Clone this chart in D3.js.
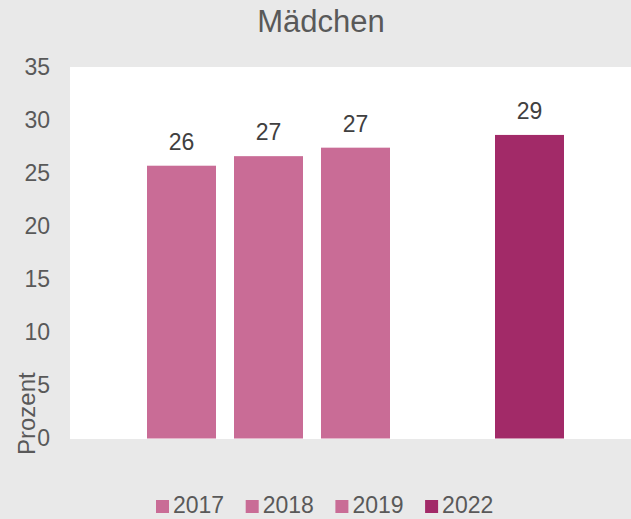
<!DOCTYPE html>
<html>
<head>
<meta charset="utf-8">
<script src="https://cdn.jsdelivr.net/npm/d3@7"></script>
<style>
  body { margin: 0; background: #e9e9e9; }
  svg { display: block; font-family: "Liberation Sans", Arial, sans-serif; }
</style>
</head>
<body>
<svg id="chart" width="631" height="519"></svg>
<script>
// data
const years = ['2017', '2018', '2019', 'gap', '2022'];
const values = [25.7, 26.6, 27.4, null, 28.6];
const labels = ['26', '27', '27', '', '29'];
const legendYears = ['2017', '2018', '2019', '2022'];
const yTicks = [0, 5, 10, 15, 20, 25, 30, 35];

const colLight = '#c96c96';
const colDark = '#a22a68';
const textCol = '#595959';

const W = 631, H = 519;
const plot = {left: 70, top: 67, right: 631, bottom: 439};

const svg = d3.select('#chart');

svg.append('rect')
    .attr('width', W).attr('height', H)
    .attr('fill', '#e9e9e9');

svg.append('rect')
    .attr('x', plot.left).attr('y', plot.top)
    .attr('width', plot.right - plot.left)
    .attr('height', plot.bottom - plot.top)
    .attr('fill', '#fff');

const x = d3.scaleBand()
    .domain(years)
    .range([138, 573])
    .paddingInner(18 / 87)
    .paddingOuter(9 / 87);

const y = d3.scaleLinear()
    .domain([0, 35])
    .range([438.5, 67]);

// y axis, labels only
const yAxis = d3.axisLeft(y).tickValues(yTicks).tickSize(0).tickPadding(0);
const gY = svg.append('g')
    .attr('transform', 'translate(50,0)')
    .call(yAxis);
gY.select('.domain').remove();
gY.selectAll('text')
    .attr('fill', textCol)
    .attr('font-size', 23)
    .attr('font-family', '"Liberation Sans", Arial, sans-serif');

// bars
const data = years.map((yr, i) => ({yr, v: values[i], lbl: labels[i]}))
    .filter(d => d.v !== null);

svg.append('g').selectAll('rect')
    .data(data)
    .join('rect')
    .attr('x', d => x(d.yr))
    .attr('y', d => y(d.v))
    .attr('width', x.bandwidth())
    .attr('height', d => y(0) - y(d.v))
    .attr('fill', d => d.yr === '2022' ? colDark : colLight);

svg.append('g').selectAll('text')
    .data(data)
    .join('text')
    .attr('x', d => x(d.yr) + x.bandwidth() / 2)
    .attr('y', d => y(d.v) - 16)
    .attr('text-anchor', 'middle')
    .attr('font-size', 23)
    .attr('fill', '#404040')
    .text(d => d.lbl);

// title
svg.append('text')
    .attr('x', 321).attr('y', 32)
    .attr('text-anchor', 'middle')
    .attr('font-size', 31)
    .attr('fill', textCol)
    .text('Mädchen');

// y axis title
svg.append('text')
    .attr('transform', 'translate(35,455) rotate(-90)')
    .attr('font-size', 24)
    .attr('fill', textCol)
    .text('Prozent');

// legend
const legend = svg.append('g').selectAll('g')
    .data(legendYears)
    .join('g')
    .attr('transform', (d, i) => `translate(${156 + i * 89.7},0)`);

legend.append('rect')
    .attr('x', 0).attr('y', 500)
    .attr('width', 13).attr('height', 13)
    .attr('fill', d => d === '2022' ? colDark : colLight);

legend.append('text')
    .attr('x', 17).attr('y', 513)
    .attr('font-size', 23)
    .attr('fill', textCol)
    .text(d => d);
</script>
</body>
</html>
